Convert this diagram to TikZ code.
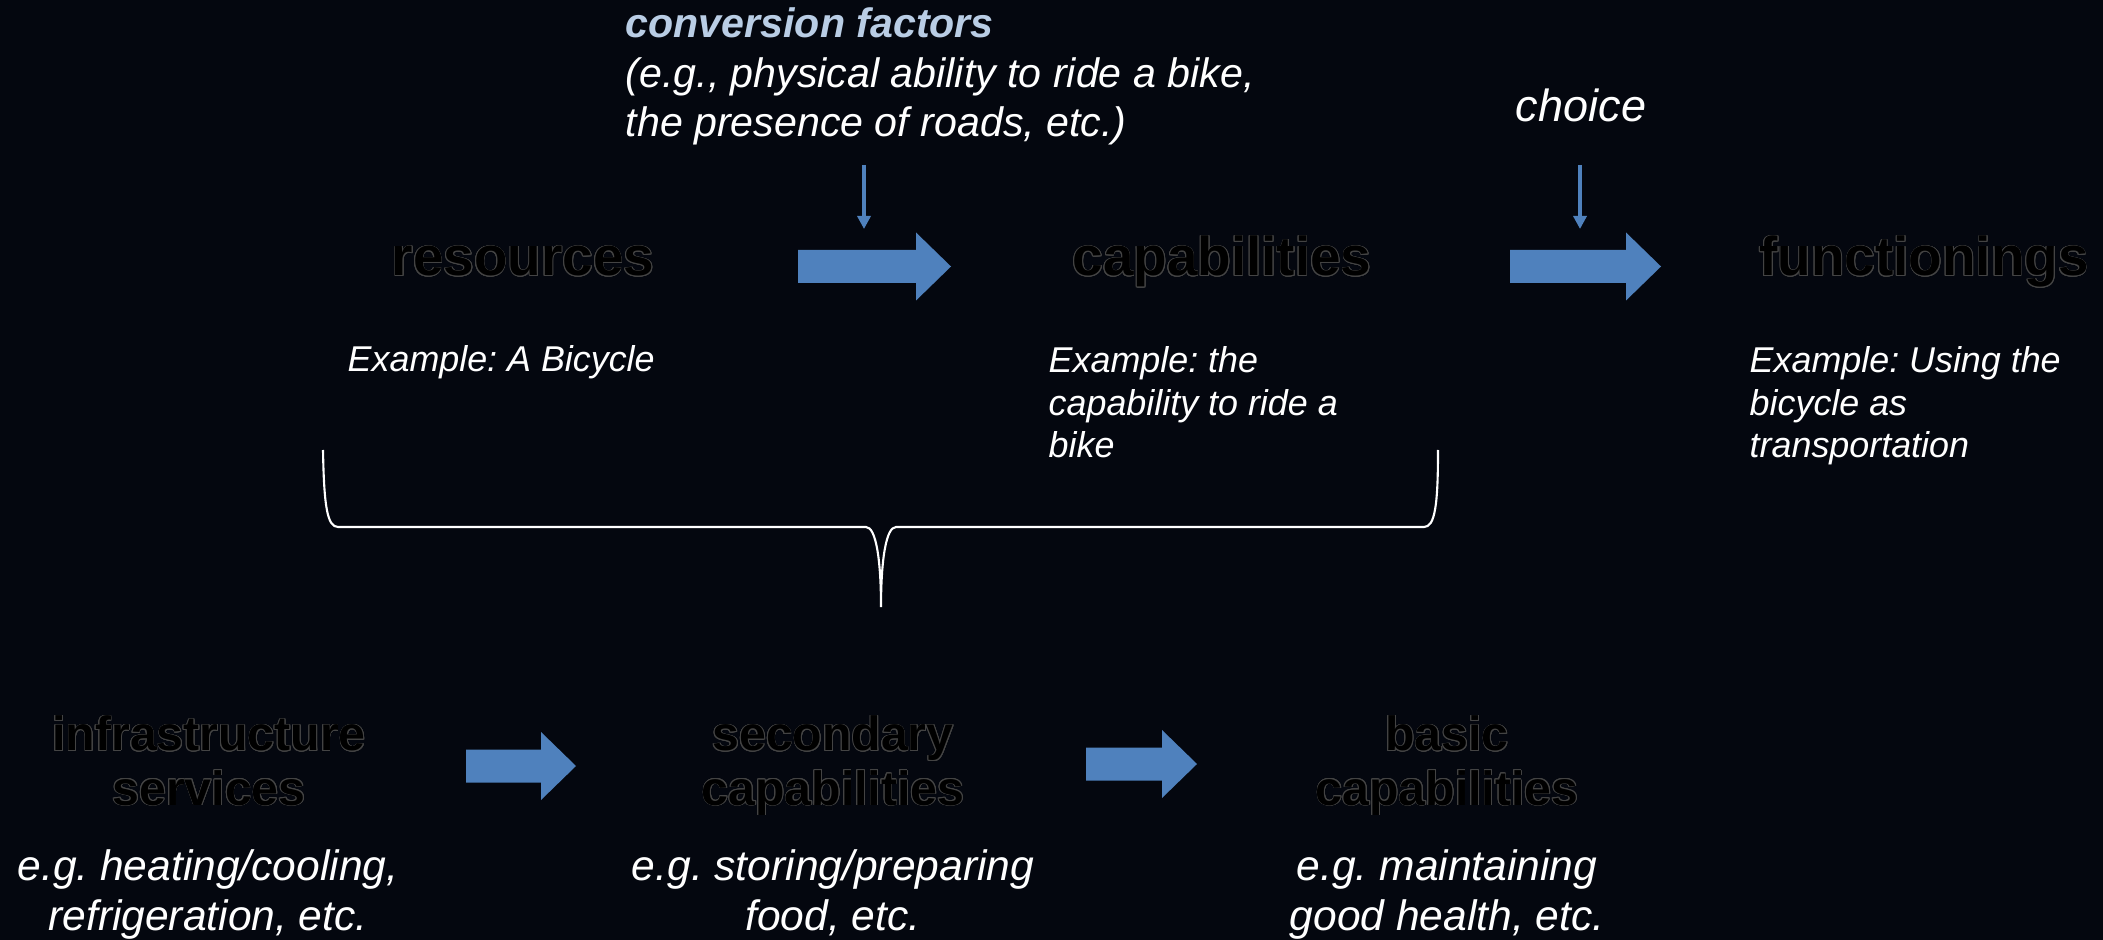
\documentclass[tikz,border=0pt]{standalone}
\usepackage{fontspec}
\setmainfont{Liberation Sans}
\usepackage[copies]{contour}
\contourlength{0.22pt}
\usetikzlibrary{arrows.meta}
\frenchspacing
\definecolor{slide}{HTML}{04070F}
\definecolor{pptblue}{HTML}{4F81BD}
\definecolor{convblue}{HTML}{B9CDE5}
\definecolor{titleedge}{HTML}{444444}
\newcommand{\ttl}[1]{\contour{titleedge}{#1}}

\begin{document}
\begin{tikzpicture}[x=0.01cm,y=-0.01cm,
    bigtitle/.style={font=\fontsize{15.6}{17}\selectfont\bfseries, text=black, inner sep=0pt, anchor=base},
    lowtitle/.style={font=\fontsize{13.7}{15.4}\selectfont\bfseries, text=black, inner sep=0pt, anchor=base, align=center},
    example/.style={font=\fontsize{10.2}{12.2}\selectfont\itshape, text=white, inner sep=0pt, anchor=base west, align=left},
    eg/.style={font=\fontsize{12.1}{14.2}\selectfont\itshape, text=white, inner sep=0pt, anchor=base, align=center},
    thinarrow/.style={draw=pptblue, line width=1.1pt, -{Triangle[length=3.7pt,width=3.7pt]}}]
        \useasboundingbox (0,0) rectangle (2103,940);
        \fill[slide] (0,0) rectangle (2103,940);

        % top row (multi-line nodes sit on their last baseline)
        \node[font=\fontsize{11.7}{14.2}\selectfont\itshape, text=white, inner sep=0pt, anchor=base west, align=left] (conv) at (625,137)
            {{\bfseries\color{convblue}conversion factors}\\(e.g., physical ability to ride a bike,\\the presence of roads, etc.)};
        \node[font=\fontsize{12.8}{15}\selectfont\itshape, text=white, inner sep=0pt, anchor=base] (choice) at (1581,122) {choice};

        \node[bigtitle] (res) at (523,276) {\ttl{resources}};
        \node[bigtitle] (cap) at (1222,276) {\ttl{capabilities}};
        \node[bigtitle] (fun) at (1924,276) {\ttl{functionings}};

        \node[example] (exres) at (347,372) {Example: A Bicycle};
        \node[example] (excap) at (1048,458) {Example: the\\capability to ride a\\bike};
        \node[example] (exfun) at (1749,458) {Example: Using the\\bicycle as\\transportation};

        % bottom row
        \node[lowtitle] (infra) at (209,805) {\ttl{infrastructure}\\\ttl{services}};
        \node[lowtitle] (sec) at (833,805) {\ttl{secondary}\\\ttl{capabilities}};
        \node[lowtitle] (basic) at (1447,805) {\ttl{basic}\\\ttl{capabilities}};

        \node[eg] (egin) at (208,930) {e.g. heating/cooling,\\refrigeration, etc.};
        \node[eg] (egsec) at (833,930) {e.g. storing/preparing\\food, etc.};
        \node[eg] (egbas) at (1447,930) {e.g. maintaining\\good health, etc.};

        % block arrows
        \foreach \xa/\xb/\ym in {798/951/266.5, 1510/1661/266.5, 466/576/766, 1086/1197/764}
        {
            \fill[pptblue] (\xa,\ym-16.5) -- (\xb-35,\ym-16.5) -- (\xb-35,\ym-34) -- (\xb,\ym)
                -- (\xb-35,\ym+34) -- (\xb-35,\ym+16.5) -- (\xa,\ym+16.5) -- cycle;
        }

        % conversion factors and choice
        \coordinate (cfa) at (864,165);
        \coordinate (cfb) at (864,229);
        \coordinate (cha) at (1580,165);
        \coordinate (chb) at (1580,229);
        \draw[thinarrow] (cfa) -- (cfb);
        \draw[thinarrow] (cha) -- (chb);

        % brace
        \draw[white, line width=0.6pt] (323,450) .. controls (324,505) and (327,527) .. (338,527) -- (866,527)
            .. controls (876,527) and (881,560) .. (881,607) .. controls (881,560) and (886,527) .. (896,527)
            -- (1424,527) .. controls (1435,527) and (1438,505) .. (1438,450);
\end{tikzpicture}
\end{document}
